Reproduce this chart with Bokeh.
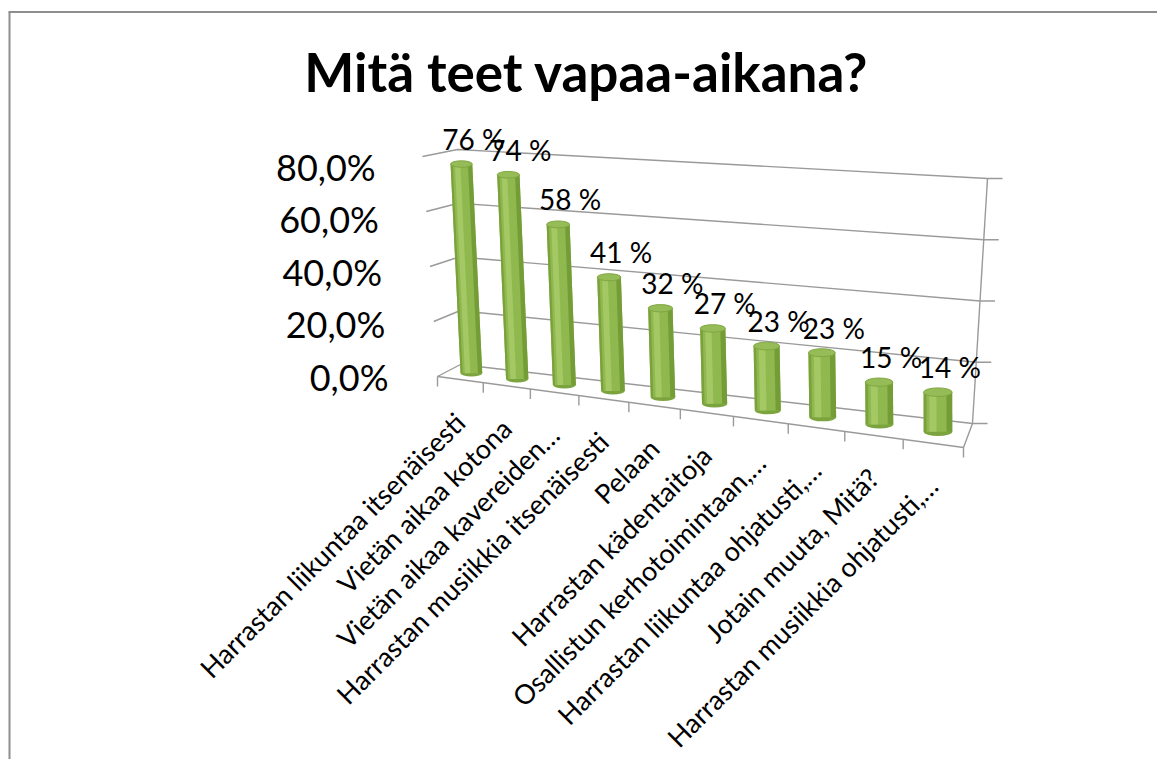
import numpy as np
from bokeh.plotting import figure
from bokeh.models import Range1d
from bokeh.core.properties import value
from bokeh.embed import file_html
from bokeh.resources import INLINE

# ---------------- data ----------------
title_text = "Mitä teet vapaa-aikana?"
categories = [
    "Harrastan liikuntaa itsenäisesti",
    "Vietän aikaa kotona",
    "Vietän aikaa kavereiden…",
    "Harrastan musiikkia itsenäisesti",
    "Pelaan",
    "Harrastan kädentaitoja",
    "Osallistun kerhotoimintaan,…",
    "Harrastan liikuntaa ohjatusti,…",
    "Jotain muuta, Mitä?",
    "Harrastan musiikkia ohjatusti,…",
]
values = [76, 74, 58, 41, 32, 27, 23, 23, 15, 14]
value_labels = ["76 %", "74 %", "58 %", "41 %", "32 %", "27 %", "23 %", "23 %", "15 %", "14 %"]
y_ticks = [0, 20, 40, 60, 80]
y_tick_labels = ["0,0%", "20,0%", "40,0%", "60,0%", "80,0%"]

# ---------------- 3D-like projection (page px) ----------------
W, H = 1157, 759
N = len(categories)
VMAX = 80.0
C = 1.166  # perspective foreshortening along the category axis

FL0, FR0 = (437.0, 376.0), (963.0, 447.0)      # floor front edge
BL0, BR0 = (460.0, 364.0), (972.0, 423.0)      # floor back edge (0 %)
BL80, BR80 = (457.0, 149.0), (987.0, 178.0)    # back wall at 80 %
FL80 = (422.0, 156.0)                          # side wall front at 80 %


def lerp(a, b, t):
    return a + (b - a) * t


def pf(u):
    return u / (C - (C - 1) * u)


def dpf(u):
    return C / (C - (C - 1) * u) ** 2


def back_left(v):
    t = v / VMAX
    return lerp(BL0[0], BL80[0], t), lerp(BL0[1], BL80[1], t)


def back_right(v):
    t = v / VMAX
    return lerp(BR0[0], BR80[0], t), lerp(BR0[1], BR80[1], t)


def side_front(v):
    t = v / VMAX
    return lerp(FL0[0], FL80[0], t), lerp(FL0[1], FL80[1], t)


def front_pt(u):
    f = pf(u)
    return lerp(FL0[0], FR0[0], f), lerp(FL0[1], FR0[1], f)


def mid_pt(u):
    f = pf(u)
    mlx, mly = (FL0[0] + BL0[0]) / 2, (FL0[1] + BL0[1]) / 2
    mrx, mry = (FR0[0] + BR0[0]) / 2, (FR0[1] + BR0[1]) / 2
    return lerp(mlx, mrx, f), lerp(mly, mry, f)


p = figure(width=W, height=H, x_range=Range1d(0, W), y_range=Range1d(H, 0),
           output_backend="svg", toolbar_location=None,
           x_axis_location=None, y_axis_location=None, min_border=0,
           outline_line_color=None, background_fill_color="white")
p.grid.visible = False

# outer chart border (left & top visible in the window)
p.segment(x0=[9, 8], y0=[11.5, 11.5], x1=[9, W], y1=[H, 11.5],
          line_color="#8E8E8E", line_width=2)

# ---------------- walls / gridlines ----------------
GRID = "#9A9A9A"
gx, gy = [], []
for v in y_ticks:
    fx, fy = side_front(v)
    lx, ly = back_left(v)
    rx, ry = back_right(v)
    gx.append([fx, lx, rx, rx + 15])
    gy.append([fy, ly, ry, ry])
rb = back_right(0); rt = back_right(VMAX)
gx.append([rt[0], rb[0]]); gy.append([rt[1], rb[1]])
gx.append([FL0[0], FR0[0], BR0[0]]); gy.append([FL0[1], FR0[1], BR0[1]])
for k in range(N + 1):
    tx_, ty_ = front_pt(k / N)
    gx.append([tx_, tx_]); gy.append([ty_, ty_ + 10])
p.multi_line(xs=gx, ys=gy, line_color=GRID, line_width=1.4)

# ---------------- y tick labels ----------------
p.text(x=[388 - v * 0.16 for v in y_ticks], y=[376 - v * 2.625 for v in y_ticks],
       text=y_tick_labels, text_font=value("Lato"), text_font_size="36px",
       text_align="right", text_baseline="middle", text_color="#000000")

# ---------------- cylinders ----------------
bx_l, by_l, tx_l, ty_l, w_l, eh_l = [], [], [], [], [], []
for i, v in enumerate(values):
    u = (i + 0.5) / N
    f = pf(u)
    bx, by = mid_pt(u)
    h = v * (2.75 + 0.08 * f)
    lean = 0.05 * (1 - f)
    bx_l.append(bx); by_l.append(by)
    tx_l.append(bx - lean * h); ty_l.append(by - h)
    w = 0.48 * (FR0[0] - FL0[0] + BR0[0] - BL0[0]) / 2 * dpf(u) / N
    w_l.append(w); eh_l.append(0.3 * w)


def band(a, b):
    xs, ys = [], []
    for bx, by, tx, ty, w in zip(bx_l, by_l, tx_l, ty_l, w_l):
        xs.append([bx - w / 2 + a * w, bx - w / 2 + b * w, tx - w / 2 + b * w, tx - w / 2 + a * w])
        ys.append([by, by, ty, ty])
    return xs, ys


p.ellipse(x=bx_l, y=by_l, width=w_l, height=eh_l, fill_color="#7CA43E", line_color=None)
xs, ys = band(0, 1)
p.patches(xs, ys, fill_color="#8FB94F", line_color=None)
xs, ys = band(0, 0.1)
p.patches(xs, ys, fill_color="#7AA13C", line_color=None)
xs, ys = band(0.8, 1)
p.patches(xs, ys, fill_color="#749C37", line_color=None)
xs, ys = band(0.2, 0.45)
p.patches(xs, ys, fill_color="#A3C864", line_color=None)
p.ellipse(x=tx_l, y=ty_l, width=w_l, height=eh_l, fill_color="#95BC56",
          line_color="#80A742", line_width=1)

# ---------------- value labels ----------------
p.text(x=[t + 12 for t in tx_l], y=[t - 25 for t in ty_l], text=value_labels,
       text_font=value("Lato"), text_font_size="28px", text_align="center",
       text_baseline="middle", text_color="#000000")

# ---------------- category labels ----------------
cx, cy = [], []
for i in range(N):
    fx, fy = front_pt((i + 0.5) / N)
    cx.append(fx - 12); cy.append(fy + 26)
p.text(x=cx, y=cy, text=categories, angle=np.pi / 4,
       text_font=value("Lato"), text_font_size="27px", text_align="right",
       text_baseline="top", text_color="#000000")

# ---------------- title ----------------
p.text(x=[586], y=[71], text=[title_text], text_font=value("Lato"),
       text_font_size="53px", text_font_style="bold", text_align="center",
       text_baseline="middle", text_color="#000000")

open("out.html", "w").write(file_html(p, INLINE))
